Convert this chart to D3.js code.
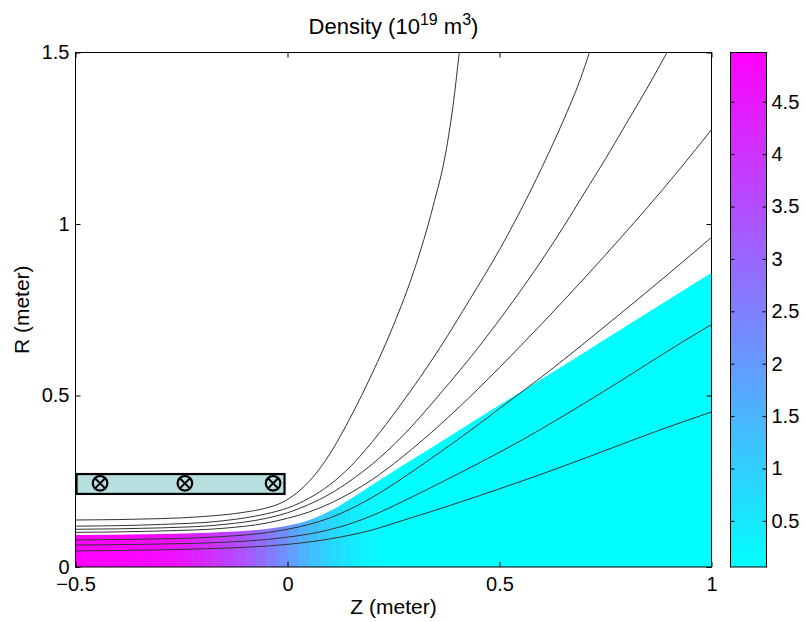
<!DOCTYPE html>
<html>
<head>
<meta charset="utf-8">
<script src="https://cdn.jsdelivr.net/npm/d3@7"></script>
<style>
  body { margin: 0; background: #fff; }
  text { font-family: "Liberation Sans", Arial, Helvetica, sans-serif; fill: #000; }
</style>
</head>
<body>
<script>
// axis ticks
var zTicks = [-0.5, 0, 0.5, 1];
var rTicks = [0, 0.5, 1, 1.5];
var cbTicks = [0.5, 1, 1.5, 2, 2.5, 3, 3.5, 4, 4.5];
var densityRange = [0.06, 4.97];

// density (Z band edges, value in each band)
var bandZ = [-0.5, -0.475, -0.45, -0.425, -0.4, -0.375, -0.35, -0.325, -0.3, -0.275, -0.25,
             -0.225, -0.2, -0.175, -0.15, -0.125, -0.1, -0.075, -0.05, -0.025, 0,
             0.025, 0.05, 0.075, 0.1, 0.125, 0.15, 0.175, 0.2, 0.225, 0.25, 1.0];
var bandN = [4.95, 4.95, 4.95, 4.94, 4.92, 4.88, 4.83, 4.77, 4.7, 4.6,
             4.45, 4.3, 4.1, 3.9, 3.7, 3.45, 3.2, 2.9, 2.6, 2.25,
             1.9, 1.55, 1.25, 0.98, 0.75, 0.56, 0.4, 0.28, 0.2, 0.13, 0.07];

// upper edge of the plasma (coloured region), [Z, R]
var plasmaEdge = [[-0.5, 0.093], [-0.3, 0.096], [-0.15, 0.102], [-0.05, 0.111], [0, 0.12],
  [0.05, 0.136], [0.1, 0.163], [0.15, 0.2], [0.2, 0.24], [0.265, 0.291], [0.36, 0.364],
  [0.5, 0.472], [0.65, 0.587], [0.8, 0.703], [1.0, 0.858]];

// magnetic field lines, [Z, R]
var line1 = [[-0.5, 0.137], [-0.3, 0.141], [-0.2, 0.147], [-0.1, 0.16], [-0.05, 0.172], [-0.013, 0.188],
  [0.022, 0.216], [0.06, 0.262], [0.1, 0.33], [0.15, 0.44], [0.2, 0.565], [0.25, 0.705], [0.3, 0.87],
  [0.343, 1.05], [0.375, 1.22], [0.392, 1.36], [0.405, 1.5]];
var line2 = [[-0.5, 0.119], [-0.3, 0.124], [-0.15, 0.135], [-0.05, 0.155], [0, 0.172], [0.05, 0.2],
  [0.1, 0.24], [0.15, 0.295], [0.2, 0.365], [0.265, 0.47], [0.36, 0.64], [0.43, 0.78], [0.5, 0.925],
  [0.55, 1.04], [0.6, 1.165], [0.65, 1.3], [0.69, 1.42], [0.712, 1.5]];
var line3 = [[-0.5, 0.11], [-0.3, 0.114], [-0.15, 0.124], [-0.05, 0.142], [0, 0.158], [0.05, 0.182],
  [0.1, 0.213], [0.15, 0.253], [0.2, 0.3], [0.27, 0.38], [0.36, 0.505], [0.45, 0.64], [0.532, 0.775],
  [0.6, 0.895], [0.65, 0.99], [0.7, 1.09], [0.75, 1.19], [0.8, 1.295], [0.85, 1.4], [0.895, 1.5]];
var line4 = [[-0.5, 0.101], [-0.3, 0.105], [-0.15, 0.113], [-0.05, 0.128], [0, 0.142], [0.05, 0.16],
  [0.1, 0.185], [0.15, 0.217], [0.2, 0.255], [0.27, 0.32], [0.36, 0.415], [0.45, 0.52], [0.55, 0.645],
  [0.65, 0.775], [0.75, 0.91], [0.85, 1.05], [0.925, 1.16], [1.0, 1.275]];
var line5 = [[-0.5, 0.079], [-0.3, 0.082], [-0.15, 0.089], [-0.05, 0.1], [0, 0.11], [0.05, 0.124],
  [0.1, 0.143], [0.15, 0.17], [0.2, 0.203], [0.27, 0.258], [0.36, 0.335], [0.45, 0.415], [0.5, 0.462],
  [0.579, 0.535], [0.65, 0.603], [0.737, 0.69], [0.831, 0.785], [0.9, 0.856], [1.0, 0.961]];
var line6 = [[-0.5, 0.064], [-0.3, 0.067], [-0.15, 0.072], [-0.05, 0.08], [0, 0.087], [0.05, 0.096],
  [0.1, 0.109], [0.15, 0.127], [0.2, 0.15], [0.27, 0.19], [0.36, 0.245], [0.45, 0.302], [0.55, 0.368],
  [0.65, 0.44], [0.75, 0.515], [0.85, 0.593], [0.93, 0.655], [1.0, 0.707]];
var line7 = [[-0.5, 0.047], [-0.3, 0.05], [-0.15, 0.055], [-0.05, 0.061], [0, 0.066], [0.1, 0.082],
  [0.2, 0.108], [0.27, 0.135], [0.36, 0.17], [0.5, 0.228], [0.62, 0.28], [0.75, 0.34], [0.875, 0.398],
  [1.0, 0.452]];
var fieldLines = [line1, line2, line3, line4, line5, line6, line7];

// coil: box extent [zMin, zMax, rMin, rMax] and conductor positions
var coilBox = [-0.5, -0.007, 0.213, 0.271];
var coilZ = [-0.442, -0.242, -0.034];
var coilR = 0.244;

var W = 806, H = 622;
var x = d3.scaleLinear().domain([-0.5, 1]).range([75.5, 711.5]);
var y = d3.scaleLinear().domain([0, 1.5]).range([567, 52.5]);
var cb = d3.scaleLinear().domain(densityRange).range([567, 52.5]);
var cool = d3.scaleLinear().domain(densityRange).range(["#00ffff", "#ff00ff"]).clamp(true);

var svg = d3.select("body").append("svg")
    .attr("width", W)
    .attr("height", H);

svg.append("clipPath").attr("id", "plotclip")
  .append("rect")
    .attr("x", x(-0.5)).attr("y", y(1.5))
    .attr("width", x(1) - x(-0.5)).attr("height", y(0) - y(1.5));

var plasmaArea = d3.area()
    .x(function(d) { return x(d[0]); })
    .y0(y(0))
    .y1(function(d) { return y(d[1]); })
    .curve(d3.curveMonotoneX);

svg.append("clipPath").attr("id", "plasmaclip")
  .append("path")
    .attr("d", plasmaArea(plasmaEdge));

// density bands
var bands = [];
for (var i = 0; i < bandN.length; i++) {
  bands.push({z0: bandZ[i], z1: bandZ[i + 1], n: bandN[i]});
}
svg.append("g")
    .attr("clip-path", "url(#plasmaclip)")
  .selectAll("rect")
  .data(bands)
  .enter().append("rect")
    .attr("x", function(d) { return x(d.z0); })
    .attr("width", function(d) { return x(d.z1) - x(d.z0) + 0.6; })
    .attr("y", y(1.5))
    .attr("height", y(0) - y(1.5))
    .attr("fill", function(d) { return cool(d.n); });

// field lines
var line = d3.line()
    .x(function(d) { return x(d[0]); })
    .y(function(d) { return y(d[1]); })
    .curve(d3.curveMonotoneX);

svg.append("g")
    .attr("clip-path", "url(#plotclip)")
  .selectAll("path")
  .data(fieldLines)
  .enter().append("path")
    .attr("d", line)
    .attr("fill", "none")
    .attr("stroke", "#333")
    .attr("stroke-width", 1);

// coil box
svg.append("rect")
    .attr("x", x(coilBox[0]) + 1)
    .attr("y", y(coilBox[3]))
    .attr("width", x(coilBox[1]) - x(coilBox[0]) - 1)
    .attr("height", y(coilBox[2]) - y(coilBox[3]))
    .attr("fill", "#b8dfe0")
    .attr("stroke", "#000")
    .attr("stroke-width", 2.2);

var coils = svg.append("g").selectAll("g")
  .data(coilZ)
  .enter().append("g")
    .attr("transform", function(d) { return "translate(" + x(d) + "," + y(coilR) + ")"; });
coils.append("circle")
    .attr("r", 7.3)
    .attr("fill", "none")
    .attr("stroke", "#000")
    .attr("stroke-width", 2.2);
coils.append("path")
    .attr("d", "M-4.8,-4.8L4.8,4.8M-4.8,4.8L4.8,-4.8")
    .attr("stroke", "#000")
    .attr("stroke-width", 2);

// axes with inward ticks
var fmt = d3.format("");
function styleAxis(g) {
  g.select(".domain").remove();
  g.selectAll(".tick line").attr("stroke", "#000");
  g.selectAll("text").style("font-size", "20px").attr("fill", "#000");
}
svg.append("g")
    .attr("transform", "translate(0," + y(0) + ")")
    .call(d3.axisBottom(x).tickValues(zTicks).tickSize(-5).tickPadding(10).tickFormat(fmt))
    .call(styleAxis);
svg.append("g")
    .attr("transform", "translate(0," + y(1.5) + ")")
    .call(d3.axisTop(x).tickValues(zTicks).tickSize(-5).tickFormat(""))
    .call(styleAxis);
svg.append("g")
    .attr("transform", "translate(" + x(-0.5) + ",0)")
    .call(d3.axisLeft(y).tickValues(rTicks).tickSize(-5).tickPadding(6).tickFormat(fmt))
    .call(styleAxis);
svg.append("g")
    .attr("transform", "translate(" + x(1) + ",0)")
    .call(d3.axisRight(y).tickValues(rTicks).tickSize(-5).tickFormat(""))
    .call(styleAxis);

svg.append("rect")
    .attr("x", x(-0.5)).attr("y", y(1.5))
    .attr("width", x(1) - x(-0.5)).attr("height", y(0) - y(1.5))
    .attr("fill", "none")
    .attr("stroke", "#000")
    .attr("stroke-width", 1);

// colorbar
var cbX0 = 730.5, cbX1 = 766.5;
var grad = svg.append("defs").append("linearGradient")
    .attr("id", "coolgrad")
    .attr("x1", 0).attr("y1", 1).attr("x2", 0).attr("y2", 0);
grad.append("stop").attr("offset", 0).attr("stop-color", cool(densityRange[0]));
grad.append("stop").attr("offset", 1).attr("stop-color", cool(densityRange[1]));

svg.append("rect")
    .attr("x", cbX0).attr("y", cb(densityRange[1]))
    .attr("width", cbX1 - cbX0).attr("height", cb(densityRange[0]) - cb(densityRange[1]))
    .attr("fill", "url(#coolgrad)");

svg.append("g")
    .attr("transform", "translate(" + cbX1 + ",0)")
    .call(d3.axisRight(cb).tickValues(cbTicks).tickSize(-4).tickPadding(5).tickFormat(fmt))
    .call(styleAxis);
svg.append("g")
    .attr("transform", "translate(" + cbX0 + ",0)")
    .call(d3.axisLeft(cb).tickValues(cbTicks).tickSize(-4).tickFormat(""))
    .call(styleAxis);

svg.append("rect")
    .attr("x", cbX0).attr("y", cb(densityRange[1]))
    .attr("width", cbX1 - cbX0).attr("height", cb(densityRange[0]) - cb(densityRange[1]))
    .attr("fill", "none")
    .attr("stroke", "#000")
    .attr("stroke-width", 1);

// labels
var title = svg.append("text")
    .attr("x", (x(-0.5) + x(1)) / 2)
    .attr("y", 34)
    .attr("text-anchor", "middle")
    .style("font-size", "22px");
title.append("tspan").text("Density (10");
title.append("tspan").attr("dy", -9).style("font-size", "16px").text("19");
title.append("tspan").attr("dy", 9).text(" m");
title.append("tspan").attr("dy", -9).style("font-size", "16px").text("3");
title.append("tspan").attr("dy", 9).text(")");

svg.append("text")
    .attr("x", (x(-0.5) + x(1)) / 2)
    .attr("y", 614)
    .attr("text-anchor", "middle")
    .style("font-size", "21px")
    .text("Z (meter)");

svg.append("text")
    .attr("transform", "translate(29," + (y(0.75)) + ") rotate(-90)")
    .attr("text-anchor", "middle")
    .style("font-size", "21px")
    .text("R (meter)");
</script>
</body>
</html>
